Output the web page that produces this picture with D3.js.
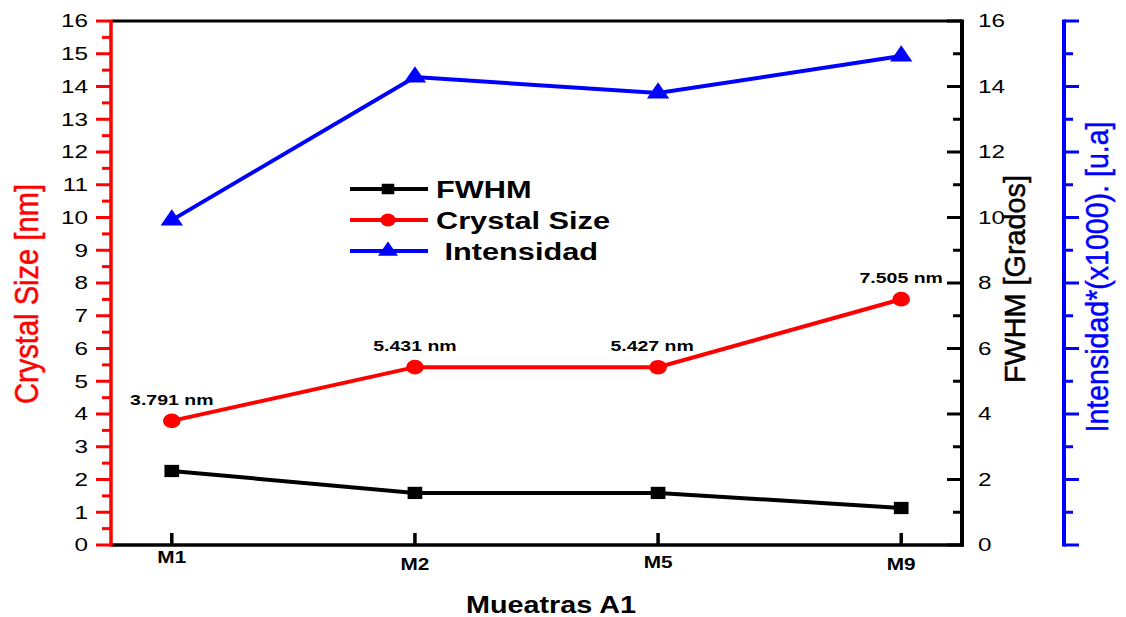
<!DOCTYPE html>
<html>
<head>
<meta charset="utf-8">
<script src="https://cdn.jsdelivr.net/npm/d3@7/dist/d3.min.js"></script>
<style>
  html, body { margin: 0; padding: 0; background: #fff; }
  svg { display: block; font-family: "Liberation Sans", Arial, sans-serif; }
</style>
</head>
<body>
<svg id="chart" width="1126" height="617"></svg>
<script>
// Samples along the x axis
const samples = ["M1", "M2", "M5", "M9"];
// Crystal size in nm (left axis)
const crystalSize = [3.791, 5.431, 5.427, 7.505];
// FWHM in degrees (right axis)
const fwhm = [2.26, 1.59, 1.59, 1.13];
// Intensity x1000 (outer right axis)
const intensidad = [9.92, 14.29, 13.80, 14.93];
// Labels printed above the crystal size points
const sizeLabels = ["3.791 nm", "5.431 nm", "5.427 nm", "7.505 nm"];
// Tick values
const leftTicks = d3.range(0, 17, 1);
const leftMinor = d3.range(0.5, 16, 1);
const rightTicks = d3.range(0, 17, 2);
const rightMinor = d3.range(1, 16, 2);

const svg = d3.select("#chart");
const plotL = 111, plotR = 962, plotT = 21, plotB = 545, outerX = 1064;
const SX = 1.3; // horizontal widening of the figure's lettering and markers

const x = d3.scalePoint().domain(samples).range([plotL, plotR]).padding(0.25);
const yLeft = d3.scaleLinear().domain([0, 16]).range([plotB, plotT]);
const yRight = d3.scaleLinear().domain([0, 16]).range([plotB, plotT]);
const yInt = d3.scaleLinear().domain([0, 16]).range([plotB, plotT]);

// text widened horizontally around its anchor point
function wideText(parent, px, py, str, o) {
  const g = parent.append("g").attr("transform", `translate(${px},${py}) scale(${o.sx || SX},1)`);
  const t = g.append("text").attr("x", 0).attr("y", 0)
    .attr("text-anchor", o.anchor || "start")
    .attr("font-size", o.size).attr("font-weight", o.weight || "normal")
    .attr("fill", o.fill || "#000").attr("xml:space", "preserve")
    .style("white-space", "pre").text(str);
  if (o.dy) t.attr("dy", o.dy);
  return t;
}

// rotated axis title with tall glyphs
function sideTitle(px, py, str, size, len, color) {
  svg.append("text").attr("transform", `translate(${px},${py}) rotate(-90)`).attr("text-anchor", "middle")
    .attr("font-size", size).attr("fill", color).attr("stroke", color).attr("stroke-width", 0.5)
    .attr("textLength", len).attr("lengthAdjust", "spacingAndGlyphs")
    .text(str);
}

// top frame
svg.append("line").attr("x1", plotL).attr("x2", plotR).attr("y1", plotT).attr("y2", plotT)
  .attr("stroke", "#000").attr("stroke-width", 3);

// bottom axis
const xAxis = svg.append("g");
xAxis.append("line").attr("x1", plotL).attr("x2", plotR + 2).attr("y1", plotB).attr("y2", plotB)
  .attr("stroke", "#000").attr("stroke-width", 3.5);
const labelDy = [18, 25, 23, 25];
samples.forEach((s, i) => {
  xAxis.append("line").attr("x1", x(s)).attr("x2", x(s)).attr("y1", plotB).attr("y2", plotB - 12)
    .attr("stroke", "#000").attr("stroke-width", 3.5);
  wideText(xAxis, x(s), plotB + labelDy[i], s, { anchor: "middle", size: 16, weight: "bold" });
});
wideText(svg, 551, 613, "Mueatras A1", { anchor: "middle", size: 23, weight: "bold", sx: 1.25 });

// left red axis
const la = svg.append("g");
la.append("line").attr("x1", plotL).attr("x2", plotL).attr("y1", plotT - 1).attr("y2", plotB + 1.5)
  .attr("stroke", "#ff0000").attr("stroke-width", 3.5);
leftTicks.forEach(v => {
  la.append("line").attr("x1", plotL).attr("x2", plotL - 15).attr("y1", yLeft(v)).attr("y2", yLeft(v))
    .attr("stroke", "#ff0000").attr("stroke-width", 3);
  wideText(la, 88, yLeft(v), String(v), { anchor: "end", size: 18, dy: "0.35em", sx: 1.35 });
});
leftMinor.forEach(v => {
  la.append("line").attr("x1", plotL).attr("x2", plotL - 9).attr("y1", yLeft(v)).attr("y2", yLeft(v))
    .attr("stroke", "#ff0000").attr("stroke-width", 3);
});
sideTitle(38, 294, "Crystal Size [nm]", 33, 220, "#ff0000");

// right black axis
const ra = svg.append("g");
ra.append("line").attr("x1", plotR).attr("x2", plotR).attr("y1", plotT - 1.5).attr("y2", plotB + 1.5)
  .attr("stroke", "#000").attr("stroke-width", 4);
rightTicks.forEach(v => {
  ra.append("line").attr("x1", plotR).attr("x2", plotR - 15).attr("y1", yRight(v)).attr("y2", yRight(v))
    .attr("stroke", "#000").attr("stroke-width", 3);
  wideText(ra, 978, yRight(v), String(v), { anchor: "start", size: 18, dy: "0.35em", sx: 1.35 });
});
rightMinor.forEach(v => {
  ra.append("line").attr("x1", plotR).attr("x2", plotR - 9).attr("y1", yRight(v)).attr("y2", yRight(v))
    .attr("stroke", "#000").attr("stroke-width", 3);
});
sideTitle(1025, 279, "FWHM [Grados]", 29, 208, "#000");

// outer blue axis
const ba = svg.append("g");
ba.append("line").attr("x1", outerX).attr("x2", outerX).attr("y1", plotT - 1.5).attr("y2", plotB + 1.5)
  .attr("stroke", "#0000ff").attr("stroke-width", 4);
d3.range(0, 17, 1).forEach(v => {
  ba.append("line").attr("x1", outerX).attr("x2", outerX + (v % 2 === 0 ? 15 : 9))
    .attr("y1", yInt(v)).attr("y2", yInt(v))
    .attr("stroke", "#0000ff").attr("stroke-width", 3);
});
sideTitle(1108, 277, "Intensidad*(x1000). [u.a]", 32, 311, "#0000ff");

// series
const line = (scale, vals) => d3.line().x((d, i) => x(samples[i])).y(d => scale(d))(vals);

svg.append("path").attr("d", line(yRight, fwhm)).attr("fill", "none").attr("stroke", "#000").attr("stroke-width", 4);
svg.append("path").attr("d", line(yLeft, crystalSize)).attr("fill", "none").attr("stroke", "#ff0000").attr("stroke-width", 4);
svg.append("path").attr("d", line(yInt, intensidad)).attr("fill", "none").attr("stroke", "#0000ff").attr("stroke-width", 4);

const sq = d3.symbol().type(d3.symbolSquare).size(150);
const ci = d3.symbol().type(d3.symbolCircle).size(170);
const tr = d3.symbol().type(d3.symbolTriangle).size(150);

const place = (px, py) => `translate(${px},${py}) scale(1.2,1)`;
fwhm.forEach((v, i) => svg.append("path").attr("d", sq())
  .attr("transform", place(x(samples[i]), yRight(v))).attr("fill", "#000"));
crystalSize.forEach((v, i) => svg.append("path").attr("d", ci())
  .attr("transform", place(x(samples[i]), yLeft(v))).attr("fill", "#ff0000"));
intensidad.forEach((v, i) => svg.append("path").attr("d", tr())
  .attr("transform", place(x(samples[i]), yInt(v))).attr("fill", "#0000ff"));

// value labels
const labelShift = [0, 0, -6, 0];
crystalSize.forEach((v, i) =>
  wideText(svg, x(samples[i]) + labelShift[i], yLeft(v) - 16, sizeLabels[i],
    { anchor: "middle", size: 15, weight: "bold" }));

// legend
const legendItems = [
  { name: "FWHM", color: "#000", sym: d3.symbol().type(d3.symbolSquare).size(110), y: 189 },
  { name: "Crystal Size", color: "#ff0000", sym: d3.symbol().type(d3.symbolCircle).size(130), y: 220 },
  { name: " Intensidad", color: "#0000ff", sym: d3.symbol().type(d3.symbolTriangle).size(120), y: 251 }
];
legendItems.forEach(d => {
  svg.append("line").attr("x1", 350).attr("x2", 428).attr("y1", d.y).attr("y2", d.y)
    .attr("stroke", d.color).attr("stroke-width", 4);
  svg.append("path").attr("d", d.sym()).attr("transform", place(388, d.y)).attr("fill", d.color);
  wideText(svg, 436, d.y, d.name, { anchor: "start", size: 24, weight: "bold", dy: "0.36em", sx: 1.28 });
});
</script>
</body>
</html>
